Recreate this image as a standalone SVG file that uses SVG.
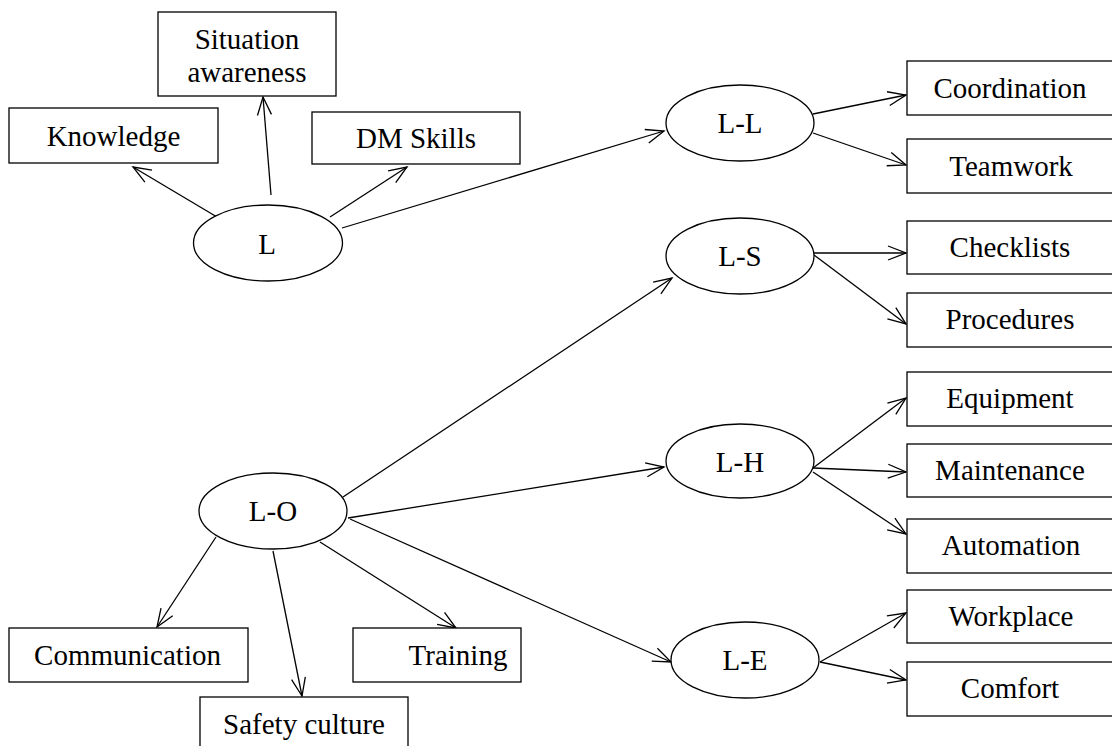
<svg xmlns="http://www.w3.org/2000/svg" width="1112" height="746" viewBox="0 0 1112 746">
  <style>
    .box { fill: #fff; stroke: #000; stroke-width: 1.3; }
    .hub { fill: #fff; stroke: #000; stroke-width: 1.3; }
    .lbl { font-family: 'Liberation Serif', 'Times New Roman', Times, Tinos, 'DejaVu Serif', serif; font-size: 29px; fill: #000; text-anchor: middle; }
    .edge { stroke: #000; stroke-width: 1.3; fill: none; marker-end: url(#open); }
  </style>
  <defs>
    <marker id="open" viewBox="-20 -10 22 20" refX="0" refY="0" markerWidth="22" markerHeight="20" markerUnits="userSpaceOnUse" orient="auto">
      <path d="M-18,-7 L0,0 L-18,7" fill="none" stroke="#000" stroke-width="1.3"/>
    </marker>
  </defs>
  <rect width="1112" height="746" fill="#fff"/>

  <g id="connectors">
    <line class="edge" x1="217" y1="217" x2="133" y2="167"/>
    <line class="edge" x1="271" y1="195" x2="263" y2="97"/>
    <line class="edge" x1="330" y1="217" x2="407" y2="167"/>
    <line class="edge" x1="342" y1="228" x2="664" y2="131"/>
    <line class="edge" x1="813" y1="114" x2="906" y2="95"/>
    <line class="edge" x1="813" y1="133" x2="906" y2="165"/>
    <line class="edge" x1="814" y1="253" x2="906" y2="253"/>
    <line class="edge" x1="814" y1="255" x2="906" y2="324"/>
    <line class="edge" x1="813" y1="468" x2="906" y2="398"/>
    <line class="edge" x1="813" y1="468" x2="906" y2="472"/>
    <line class="edge" x1="813" y1="472" x2="906" y2="534"/>
    <line class="edge" x1="820" y1="662" x2="906" y2="613"/>
    <line class="edge" x1="820" y1="662" x2="906" y2="680"/>
    <line class="edge" x1="216" y1="537" x2="157" y2="627"/>
    <line class="edge" x1="273" y1="551" x2="302" y2="696"/>
    <line class="edge" x1="320" y1="542" x2="456" y2="628"/>
    <line class="edge" x1="343" y1="497" x2="672" y2="278"/>
    <line class="edge" x1="348" y1="518" x2="664" y2="467"/>
    <line class="edge" x1="350" y1="519" x2="671" y2="662"/>
  </g>

  <!-- hubs -->
  <g id="L"><ellipse class="hub" cx="268" cy="243" rx="74.5" ry="38"/><text class="lbl" x="267" y="254">L</text></g>
  <g id="L-L"><ellipse class="hub" cx="740" cy="123" rx="74" ry="38"/><text class="lbl" x="740" y="133">L-L</text></g>
  <g id="L-S"><ellipse class="hub" cx="740" cy="256" rx="74" ry="38"/><text class="lbl" x="740" y="266">L-S</text></g>
  <g id="L-H"><ellipse class="hub" cx="740" cy="461" rx="74" ry="37"/><text class="lbl" x="740" y="472">L-H</text></g>
  <g id="L-E"><ellipse class="hub" cx="745" cy="660" rx="74" ry="38"/><text class="lbl" x="745" y="670">L-E</text></g>
  <g id="L-O"><ellipse class="hub" cx="273" cy="511" rx="74" ry="38"/><text class="lbl" x="273" y="521">L-O</text></g>

  <!-- factor boxes -->
  <g id="knowledge"><rect class="box" x="9" y="108" width="209" height="55"/><text class="lbl" x="113.5" y="146">Knowledge</text></g>
  <g id="situation-awareness"><rect class="box" x="158" y="12" width="178" height="84"/><text class="lbl" x="247" y="49">Situation</text><text class="lbl" x="247" y="82">awareness</text></g>
  <g id="dm-skills"><rect class="box" x="312" y="112" width="208" height="52"/><text class="lbl" x="416" y="148">DM Skills</text></g>

  <g id="coordination"><rect class="box" x="907" y="61" width="220" height="54"/><text class="lbl" x="1010" y="98">Coordination</text></g>
  <g id="teamwork"><rect class="box" x="907" y="139" width="220" height="54"/><text class="lbl" x="1011" y="176">Teamwork</text></g>
  <g id="checklists"><rect class="box" x="907" y="221" width="220" height="53"/><text class="lbl" x="1010" y="257">Checklists</text></g>
  <g id="procedures"><rect class="box" x="907" y="293" width="220" height="54"/><text class="lbl" x="1010" y="329">Procedures</text></g>
  <g id="equipment"><rect class="box" x="907" y="372" width="220" height="54"/><text class="lbl" x="1010" y="408">Equipment</text></g>
  <g id="maintenance"><rect class="box" x="907" y="444" width="220" height="53"/><text class="lbl" x="1010" y="480">Maintenance</text></g>
  <g id="automation"><rect class="box" x="907" y="519" width="220" height="54"/><text class="lbl" x="1011" y="555">Automation</text></g>
  <g id="workplace"><rect class="box" x="907" y="590" width="220" height="53"/><text class="lbl" x="1011" y="626">Workplace</text></g>
  <g id="comfort"><rect class="box" x="907" y="662" width="220" height="54"/><text class="lbl" x="1010" y="698">Comfort</text></g>

  <g id="communication"><rect class="box" x="9" y="628" width="239" height="54"/><text class="lbl" x="127.5" y="665">Communication</text></g>
  <g id="training"><rect class="box" x="353" y="628" width="168" height="54"/><text class="lbl" x="458" y="665">Training</text></g>
  <g id="safety-culture"><rect class="box" x="200" y="697" width="208" height="70"/><text class="lbl" x="304" y="734">Safety culture</text></g>
</svg>
